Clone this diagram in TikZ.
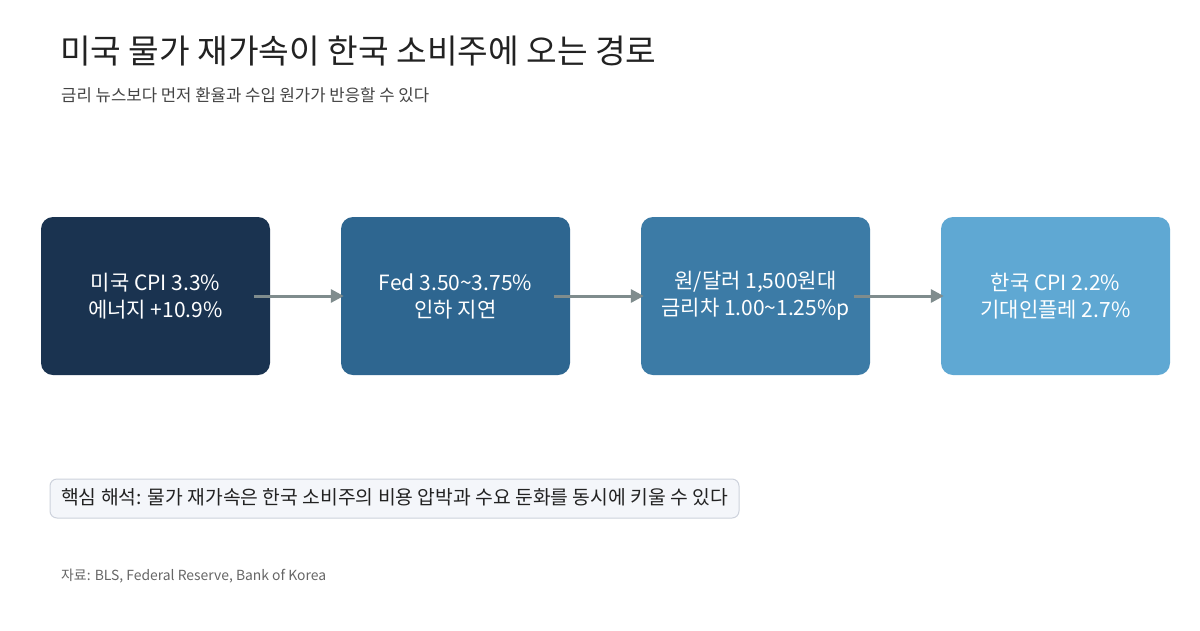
\documentclass[tikz,border=0pt]{standalone}
\usepackage{fontspec}
\setmainfont{Noto Sans CJK KR}
\usetikzlibrary{arrows.meta}
\definecolor{cA}{HTML}{1A3350}
\definecolor{cB}{HTML}{2E6690}
\definecolor{cC}{HTML}{3C7BA6}
\definecolor{cD}{HTML}{5FA8D3}
\definecolor{arrowgray}{HTML}{7F8C8D}
\definecolor{titlecol}{HTML}{222222}
\definecolor{subcol}{HTML}{444444}
\definecolor{srccol}{HTML}{666666}
\definecolor{notefill}{HTML}{F4F6FA}
\definecolor{notedraw}{HTML}{CDD2DC}
\tikzset{
  flowbox/.style={rounded corners=12pt, minimum width=229pt, minimum height=158pt, inner sep=0pt,
    text=white, align=center, font=\fontsize{21}{27}\selectfont},
  flowarrow/.style={draw=arrowgray, line width=3pt, -{Triangle[length=13pt,width=13pt]}},
}
\begin{document}
\begin{tikzpicture}[x=1pt,y=-1pt]
\useasboundingbox (0,0) rectangle (1200,630);
\fill[white] (0,0) rectangle (1200,630);
\node[anchor=base west, text=titlecol, font=\fontsize{33.3}{38}\selectfont, inner sep=0pt] (title) at (60,63) {미국 물가 재가속이 한국 소비주에 오는 경로};
\node[anchor=base west, text=subcol, font=\fontsize{16.7}{20}\selectfont, inner sep=0pt] (sub) at (61,101) {금리 뉴스보다 먼저 환율과 수입 원가가 반응할 수 있다};

\node[flowbox, fill=cA] (b1) at (155.5,296) {미국 CPI 3.3\%\\에너지 +10.9\%};
\node[flowbox, fill=cB] (b2) at (455.5,296) {Fed 3.50\textasciitilde 3.75\%\\인하 지연};
\node[flowbox, fill=cC] (b3) at (755.5,296) {원/달러 1,500원대\\금리차 1.00\textasciitilde 1.25\%p};
\node[flowbox, fill=cD] (b4) at (1055.5,296) {한국 CPI 2.2\%\\기대인플레 2.7\%};

\draw[flowarrow] ([xshift=-16pt]b1.east) -- ([xshift=3pt]b2.west);
\draw[flowarrow] ([xshift=-16pt]b2.east) -- ([xshift=3pt]b3.west);
\draw[flowarrow] ([xshift=-16pt]b3.east) -- ([xshift=3pt]b4.west);

\node[draw=notedraw, fill=notefill, line width=1pt, rounded corners=7pt, minimum width=689pt, minimum height=39pt, inner sep=0pt] (note) at (394.5,498.5) {};
\node[anchor=west, text=titlecol, font=\fontsize{19.3}{23}\selectfont, inner sep=0pt] (notetext) at (61,497) {핵심 해석: 물가 재가속은 한국 소비주의 비용 압박과 수요 둔화를 동시에 키울 수 있다};

\node[anchor=base west, text=srccol, font=\fontsize{13.9}{17}\selectfont, inner sep=0pt] (src) at (61,580) {자료: BLS, Federal Reserve, Bank of Korea};
\end{tikzpicture}
\end{document}
